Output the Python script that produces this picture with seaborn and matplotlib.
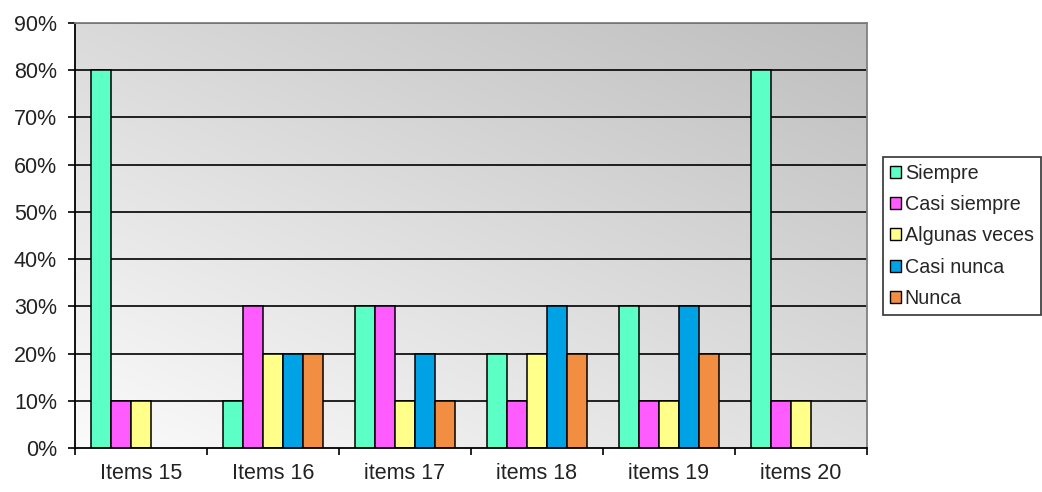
import numpy as np
import pandas as pd
import matplotlib
matplotlib.use("Agg")
import matplotlib.pyplot as plt
import seaborn as sns
from matplotlib.patches import Patch

items = ["Items 15", "Items 16", "items 17", "items 18", "items 19", "items 20"]
series = ["Siempre", "Casi siempre", "Algunas veces", "Casi nunca", "Nunca"]
siempre = [80, 10, 30, 20, 30, 80]
casi_siempre = [10, 30, 30, 10, 10, 10]
algunas_veces = [10, 20, 10, 20, 10, 10]
casi_nunca = [0, 20, 20, 30, 30, 0]
nunca = [0, 20, 10, 20, 20, 0]
y_ticks = [0, 10, 20, 30, 40, 50, 60, 70, 80, 90]

colors = ["#5CFFC6", "#FF5CFF", "#FFFF8A", "#00A2E6", "#F28E42"]

values = [siempre, casi_siempre, algunas_veces, casi_nunca, nunca]
df = pd.DataFrame(
    [(it, s, v) for s, vals in zip(series, values) for it, v in zip(items, vals)],
    columns=["item", "respuesta", "pct"],
)

sns.set_theme(style="white")
plt.rcParams["font.family"] = ["Liberation Sans", "DejaVu Sans"]

fig = plt.figure(figsize=(10.42, 4.92), dpi=100)
fig.patch.set_facecolor("white")
ax = fig.add_axes([75 / 1042, 44 / 492, 792 / 1042, 425 / 492])

# diagonal grey gradient behind the bars
nx, ny = 200, 200
xf = np.linspace(0, 1, nx)[None, :]
yf = np.linspace(0, 1, ny)[:, None]
shade = (251 - 33 * yf - 28 * xf) / 255.0
rgb = np.dstack([shade, shade, shade])
ax.imshow(rgb, extent=[-0.5, 5.5, 0, 90], origin="lower", aspect="auto",
          zorder=0, interpolation="bilinear")

for t in y_ticks[1:]:
    ax.axhline(t, color="black", lw=1.2, zorder=1)

sns.barplot(data=df, x="item", y="pct", hue="respuesta", order=items,
            hue_order=series, palette=colors, width=0.76, gap=0,
            edgecolor="black", linewidth=1.1, saturation=1, ax=ax,
            legend=False, zorder=2)

# empty categories leave no outline on the axis
for p in ax.patches:
    if p.get_height() == 0:
        p.set_linewidth(0)

ax.set_xlim(-0.5, 5.5)
ax.set_ylim(0, 90)
ax.set_xlabel("")
ax.set_ylabel("")

ax.set_yticks(y_ticks)
ax.set_yticklabels([f"{t}%" for t in y_ticks], fontsize=15.5, color="#222222")
ax.tick_params(axis="y", direction="out", length=5, width=1.2, color="black",
               pad=8, left=True)

ax.set_xticks(np.arange(-0.5, 6, 1))
ax.set_xticklabels([])
ax.set_xticks(np.arange(6), minor=True)
ax.set_xticklabels(items, minor=True, fontsize=15.5, color="#222222")
ax.tick_params(axis="x", which="major", direction="out", length=5, width=1.2,
               color="black", bottom=True)
ax.tick_params(axis="x", which="minor", length=0, pad=11)

for side in ["left", "bottom"]:
    ax.spines[side].set_color("black")
    ax.spines[side].set_linewidth(1.3)
for side in ["top", "right"]:
    ax.spines[side].set_color("#808080")
    ax.spines[side].set_linewidth(1.3)
    ax.spines[side].set_visible(True)

handles = [Patch(facecolor=c, edgecolor="black", linewidth=1) for c in colors]
leg = fig.legend(handles, series, loc="upper left",
                 bbox_to_anchor=(883 / 1042, 1 - 157 / 492),
                 fontsize=14.2, frameon=True, fancybox=False,
                 handlelength=0.55, handleheight=0.55, handletextpad=0.2,
                 labelspacing=0.62, borderpad=0.35, borderaxespad=0)
leg.get_frame().set_edgecolor("black")
leg.get_frame().set_linewidth(1.2)
leg.get_frame().set_facecolor("white")

fig.savefig("out.png", dpi=100, facecolor="white")
